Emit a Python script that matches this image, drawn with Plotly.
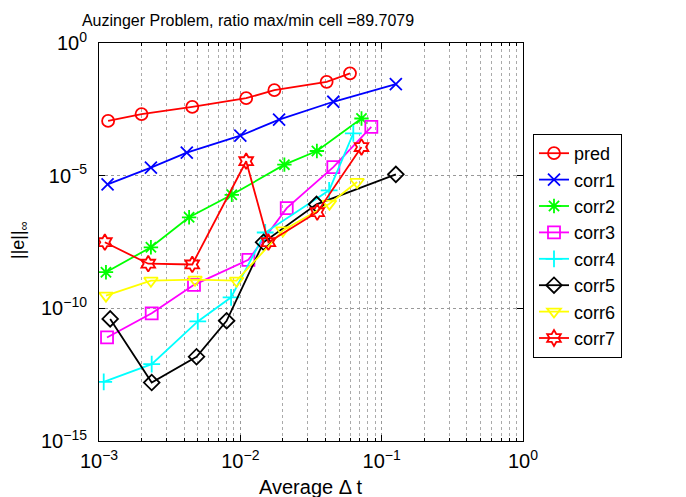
import plotly.graph_objects as go

names = ["pred", "corr1", "corr2", "corr3", "corr4", "corr5", "corr6", "corr7"]
colors = ["#FF0000", "#0000FF", "#00FF00", "#FF00FF", "#00FFFF", "#000000", "#FFFF00", "#FF0000"]
symbols = ["circle-open", "x-thin-open", "asterisk-open", "square-open", "cross-thin-open",
           "diamond-open", "triangle-down-open", "hexagram-open"]

pred_x = [1.16e-3, 2.0e-3, 4.57e-3, 1.1e-2, 1.74e-2, 4.08e-2, 5.97e-2]
pred_y = [1.16e-3, 2.1e-3, 3.9e-3, 8.3e-3, 1.67e-2, 3.45e-2, 7.2e-2]
corr1_x = [1.15e-3, 2.33e-3, 4.18e-3, 1.0e-2, 1.88e-2, 4.55e-2, 0.126]
corr1_y = [4.7e-6, 2.0e-5, 7.4e-5, 3.2e-4, 1.3e-3, 6.1e-3, 2.8e-2]
corr2_x = [1.12e-3, 2.33e-3, 4.34e-3, 8.7e-3, 2.05e-2, 3.48e-2, 7.2e-2]
corr2_y = [2.3e-9, 2.0e-8, 2.7e-7, 1.9e-6, 2.6e-5, 8.5e-5, 1.43e-3]
corr3_x = [1.14e-3, 2.36e-3, 4.7e-3, 1.14e-2, 2.13e-2, 4.55e-2, 8.45e-2]
corr3_y = [8e-12, 6.5e-11, 7.7e-10, 6.7e-9, 6.0e-7, 2.1e-5, 6.9e-4]
corr4_x = [1.08e-3, 2.36e-3, 5.0e-3, 8.6e-3, 1.5e-2, 4.25e-2, 6.3e-2]
corr4_y = [1.7e-13, 7.9e-13, 3.2e-11, 2.6e-10, 7.2e-8, 2.8e-6, 3.9e-4]
corr5_x = [1.2e-3, 2.36e-3, 4.9e-3, 8.0e-3, 1.46e-2, 3.46e-2, 0.126]
corr5_y = [4e-11, 1.6e-13, 1.5e-12, 3.4e-11, 3.1e-8, 8.3e-7, 1.12e-5]
corr6_x = [1.12e-3, 2.33e-3, 4.78e-3, 9.4e-3, 2.0e-2, 4.27e-2, 6.7e-2]
corr6_y = [3.0e-10, 1.1e-9, 1.2e-9, 1.1e-9, 8.6e-8, 8.8e-7, 5.8e-6]
corr7_x = [1.1e-3, 2.23e-3, 4.57e-3, 1.1e-2, 1.58e-2, 3.5e-2, 7.2e-2]
corr7_y = [3.1e-8, 4.8e-9, 4.5e-9, 3.5e-5, 3.1e-8, 4.2e-7, 1.2e-4]

xs = [pred_x, corr1_x, corr2_x, corr3_x, corr4_x, corr5_x, corr6_x, corr7_x]
ys = [pred_y, corr1_y, corr2_y, corr3_y, corr4_y, corr5_y, corr6_y, corr7_y]

x_tickvals = [1e-3, 1e-2, 1e-1, 1e0]
x_ticktext = ["10<sup>\u22123</sup>", "10<sup>\u22122</sup>", "10<sup>\u22121</sup>", "10<sup>0</sup>"]
y_tickvals = [1e-15, 1e-10, 1e-5, 1e0]
y_ticktext = ["10<sup>\u221215</sup>", "10<sup>\u221210</sup>", "10<sup>\u22125</sup>", "10<sup>0</sup>"]

title = "Auzinger Problem, ratio max/min cell =89.7079"
x_title = "Average \u0394 t"
y_title = "||e||<sub>\u221e</sub>"
font_family = "Liberation Sans, Arial, sans-serif"

W, H = 686, 497
L, T, PW, PH = 91, 35, 424, 398

fig = go.Figure()
for n, c, s, x, y in zip(names, colors, symbols, xs, ys):
    fig.add_trace(go.Scatter(
        x=x, y=y, name=n, mode="lines+markers",
        line=dict(color=c, width=1.8),
        marker=dict(symbol=s, size=12, color=c, line=dict(color=c, width=1.8)),
    ))

fig.update_layout(
    width=W, height=H,
    margin=dict(l=L, r=W - L - PW, t=T, b=H - T - PH),
    paper_bgcolor="white", plot_bgcolor="white",
    font=dict(family=font_family, size=18, color="black"),
    title=dict(text=title, x=240 / W, xanchor="center", y=1 - 12 / H, yanchor="middle",
               font=dict(size=16)),
    legend=dict(x=(525 - L) / PW, xanchor="left", y=(T + PH - 126) / PH, yanchor="top",
                bordercolor="black", borderwidth=1, bgcolor="white",
                font=dict(size=18), itemwidth=30, tracegroupgap=0),
    showlegend=True,
)
fig.update_xaxes(
    type="log", range=[-3, 0], tickvals=x_tickvals, ticktext=x_ticktext,
    showline=True, linecolor="black", linewidth=1, mirror="ticks",
    ticks="inside", ticklen=6, tickcolor="black",
    showgrid=True, gridcolor="#999999", griddash="dot", gridwidth=1,
    minor=dict(dtick="D1", showgrid=True, gridcolor="#aaaaaa", griddash="dot", ticks="inside",
               ticklen=3, tickcolor="black"),
    zeroline=False, automargin=False,
    tickfont=dict(size=20), ticklabelstandoff=2,
)
fig.update_yaxes(
    type="log", range=[-15, 0], tickvals=y_tickvals, ticktext=y_ticktext,
    showline=True, linecolor="black", linewidth=1, mirror="ticks",
    ticks="inside", ticklen=6, tickcolor="black",
    showgrid=True, gridcolor="#999999", griddash="dot", gridwidth=1,
    zeroline=False, automargin=False,
    tickfont=dict(size=20), ticklabelstandoff=7,
)

fig.add_annotation(text=x_title, xref="paper", yref="paper",
                   x=(303 - L) / PW, y=(T + PH - 479) / PH, xanchor="center", yanchor="middle",
                   showarrow=False, font=dict(size=20))
fig.add_annotation(text=y_title, xref="paper", yref="paper", textangle=-90,
                   x=(11 - L) / PW, y=(T + PH - 232) / PH, xanchor="center", yanchor="middle",
                   showarrow=False, font=dict(size=18))

fig.write_html("out.html")
